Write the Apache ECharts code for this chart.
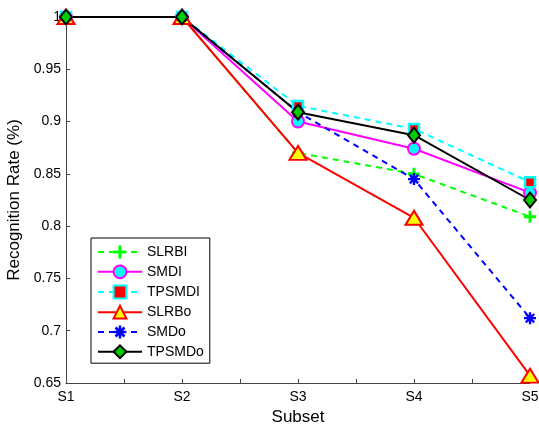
<!DOCTYPE html>
<html>
<head>
<meta charset="utf-8">
<script src="https://cdn.jsdelivr.net/npm/echarts@6/dist/echarts.min.js"></script>
<style>
  html, body { margin: 0; padding: 0; background: #fff; }
  #chart { width: 539px; height: 427px; }
</style>
</head>
<body>
<div id="chart"></div>
<script>
// subsets on the x axis
let categories = ['S1', 'S2', 'S3', 'S4', 'S5']

// recognition rates per method
let slrbi  = [1.0, 1.0, 0.870, 0.850, 0.809]
let smdi   = [1.0, 1.0, 0.900, 0.874, 0.832]
let tpsmdi = [1.0, 1.0, 0.915, 0.893, 0.842]
let slrbo  = [1.0, 1.0, 0.870, 0.808, 0.657]
let smdo   = [1.0, 1.0, 0.909, 0.845, 0.712]
let tpsmdo = [1.0, 1.0, 0.909, 0.887, 0.825]

let yTicks = [0.65, 0.7, 0.75, 0.8, 0.85, 0.9, 0.95, 1]

const plusPath = 'path://M3.8,0 L6.2,0 L6.2,3.8 L10,3.8 L10,6.2 L6.2,6.2 L6.2,10 L3.8,10 L3.8,6.2 L0,6.2 L0,3.8 L3.8,3.8 Z'
const starPath = 'path://M4,0h2v10h-2z M0,4h10v2h-10z M0.8,2.2 L2.2,0.8 L9.2,7.8 L7.8,9.2 Z M7.8,0.8 L9.2,2.2 L2.2,9.2 L0.8,7.8 Z M2.5,2.5h5v5h-5z'

function toPoints(values) {
  return values.map((v, i) => [i + 1, v])
}

function makeSeries(name, values, opts) {
  return {
    name: name,
    type: 'line',
    data: toPoints(values),
    symbol: opts.symbol,
    symbolSize: opts.size,
    showAllSymbol: true,
    lineStyle: { color: opts.color, width: 2, type: opts.dashed ? [6, 5] : 'solid' },
    itemStyle: { color: opts.fill, borderColor: opts.border, borderWidth: opts.borderWidth },
    emphasis: { disabled: true },
    animation: false
  }
}

let chart = echarts.init(document.getElementById('chart'))

let option = {
  backgroundColor: '#fff',
  textStyle: { fontFamily: 'Liberation Sans, Arial, sans-serif' },
  grid: { left: 66, right: 9, top: 17, bottom: 44, containLabel: false, outerBoundsMode: 'none' },
  xAxis: {
    type: 'value',
    min: 1, max: 5, interval: 0.5,
    name: 'Subset',
    nameLocation: 'middle',
    nameGap: 20,
    nameTextStyle: { fontSize: 17, color: '#000' },
    axisLine: { lineStyle: { color: '#444', width: 1 } },
    axisTick: { inside: true, length: 4, lineStyle: { color: '#444' } },
    axisLabel: {
      color: '#000', fontSize: 14, margin: 7,
      formatter: v => Number.isInteger(v) ? categories[v - 1] : ''
    },
    splitLine: { show: false }
  },
  yAxis: {
    type: 'value',
    min: 0.65, max: 1, interval: 0.05,
    name: 'Recognition Rate (%)',
    nameLocation: 'middle',
    nameGap: 40,
    nameTextStyle: { fontSize: 17, color: '#000' },
    axisLine: { show: true, lineStyle: { color: '#444', width: 1 } },
    axisTick: { show: true, inside: true, length: 4, lineStyle: { color: '#444' } },
    axisLabel: {
      color: '#000', fontSize: 14, margin: 5,
      formatter: v => {
        let t = yTicks.find(x => Math.abs(x - v) < 1e-6)
        return t === undefined ? '' : String(t)
      }
    },
    splitLine: { show: false }
  },
  legend: {
    orient: 'vertical',
    left: 91, top: 238,
    backgroundColor: '#fff',
    borderColor: '#000',
    borderWidth: 1,
    borderRadius: 0,
    padding: [7, 6, 4, 6],
    itemWidth: 44,
    itemHeight: 16,
    itemGap: 5.4,
    textStyle: { fontSize: 14, color: '#000' },
    data: ['SLRBI', 'SMDI', 'TPSMDI', 'SLRBo', 'SMDo', 'TPSMDo']
  },
  series: [
    makeSeries('SLRBI', slrbi, { symbol: plusPath, size: 12, color: '#00ff00', fill: '#00ff00', border: '#00ff00', borderWidth: 0, dashed: true }),
    makeSeries('SMDI', smdi, { symbol: 'circle', size: 12, color: '#ff00ff', fill: '#00ffff', border: '#ff00ff', borderWidth: 2 }),
    makeSeries('TPSMDI', tpsmdi, { symbol: 'rect', size: 10, color: '#00ffff', fill: '#ff0000', border: '#00ffff', borderWidth: 2.5, dashed: true }),
    makeSeries('SLRBo', slrbo, { symbol: 'triangle', size: [17, 14], color: '#ff0000', fill: '#ffff00', border: '#ff0000', borderWidth: 2 }),
    makeSeries('SMDo', smdo, { symbol: starPath, size: 12, color: '#0000ff', fill: '#0000ff', border: '#0000ff', borderWidth: 0, dashed: true }),
    makeSeries('TPSMDo', tpsmdo, { symbol: 'diamond', size: [12, 15], color: '#000000', fill: '#00cc00', border: '#000000', borderWidth: 2 })
  ]
}

chart.setOption(option)
</script>
</body>
</html>
